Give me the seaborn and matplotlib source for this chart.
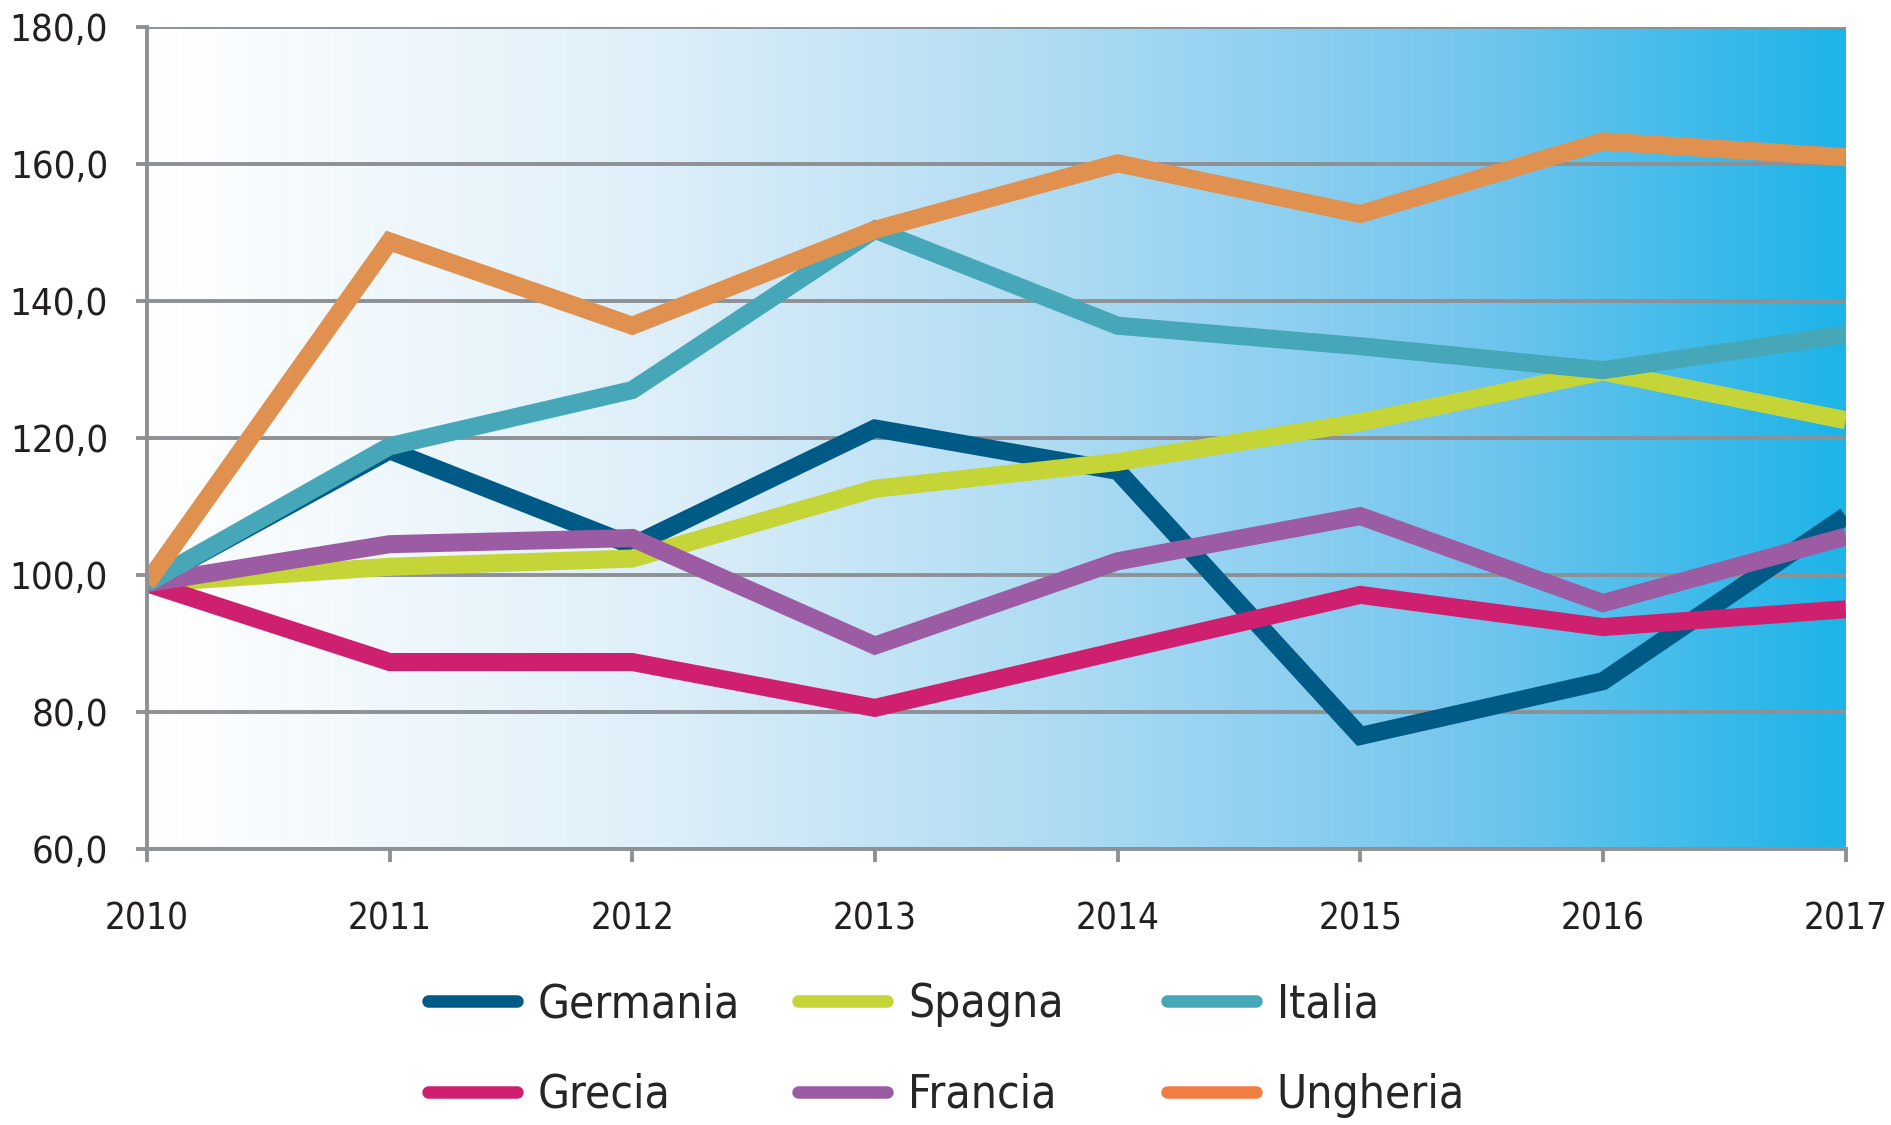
import numpy as np
import pandas as pd
import matplotlib
matplotlib.use('Agg')
import matplotlib.pyplot as plt
from matplotlib import font_manager
from matplotlib.colors import LinearSegmentedColormap
from matplotlib.lines import Line2D
import seaborn as sns

# dati
anni = [2010, 2011, 2012, 2013, 2014, 2015, 2016, 2017]
germania = [98.8, 118.2, 104.3, 121.4, 115.2, 76.5, 84.5, 108.6]
spagna = [98.8, 101.2, 102.4, 112.6, 116.5, 122.3, 129.7, 122.6]
italia = [98.8, 118.8, 127.0, 150.4, 136.4, 133.4, 129.9, 135.1]
grecia = [98.8, 87.3, 87.3, 80.6, 88.9, 97.1, 92.4, 95.0]
francia = [98.8, 104.5, 105.4, 89.7, 102.0, 108.6, 95.9, 105.6]
ungheria = [98.8, 148.7, 136.4, 150.4, 160.1, 152.7, 163.3, 161.0]

y_ticks = [60, 80, 100, 120, 140, 160, 180]
y_labels = ['60,0', '80,0', '100,0', '120,0', '140,0', '160,0', '180,0']

paesi = ['Germania', 'Spagna', 'Grecia', 'Francia', 'Italia', 'Ungheria']
colori = {'Germania': '#005a86', 'Spagna': '#c5d538', 'Italia': '#45a7b8',
          'Grecia': '#cf2070', 'Francia': '#9c5ca4', 'Ungheria': '#e0914f'}
colori_legenda = dict(colori, Ungheria='#f07d42')

valori = {'Germania': germania, 'Spagna': spagna, 'Italia': italia,
          'Grecia': grecia, 'Francia': francia, 'Ungheria': ungheria}
df = pd.concat([pd.DataFrame({'anno': anni, 'valore': valori[p], 'paese': p})
                for p in paesi], ignore_index=True)

sns.set_style('ticks')

# cerca un font stretto (il grafico usa un carattere condensato)
stretto = None
for f in font_manager.fontManager.ttflist:
    if ('Narrow' in f.name or 'Condensed' in f.name or
            str(f.stretch) in ('condensed', 'semi-condensed', 'extra-condensed', '75', '87')):
        if 'Bold' not in f.fname and 'Oblique' not in f.fname and 'Italic' not in f.fname:
            stretto = f
            break
if stretto is not None:
    plt.rcParams['font.family'] = [stretto.name, 'DejaVu Sans']
    plt.rcParams['font.stretch'] = stretto.stretch
    fs_y, fs_x, fs_leg = 27.5, 26.5, 33
else:
    plt.rcParams['font.family'] = ['Roboto', 'DejaVu Sans']
    fs_y, fs_x, fs_leg = 24, 24, 29

fig = plt.figure(figsize=(18.91, 11.25), dpi=100)
ax = fig.add_axes([0.0777, 0.2453, 0.976 - 0.0777, 0.976 - 0.2453])

# sfondo sfumato bianco -> azzurro
cmap = LinearSegmentedColormap.from_list('sfondo', [
    (0.0, '#ffffff'), (0.3, '#deeff9'), (0.55, '#abdaf3'),
    (0.78, '#74c6ee'), (1.0, '#1eb4e8')])
grad = np.linspace(0, 1, 512).reshape(1, -1)
ax.imshow(grad, extent=[2010, 2017, 60, 180], aspect='auto', cmap=cmap,
          zorder=0, interpolation='bicubic')

sns.lineplot(data=df, x='anno', y='valore', hue='paese', hue_order=paesi,
             palette=colori, linewidth=13, ax=ax, legend=False,
             solid_joinstyle='miter', solid_capstyle='butt')

ax.set_xlim(2010, 2017)
ax.set_ylim(60, 180)
ax.set_xticks(anni)
ax.set_xticklabels([str(a) for a in anni])
ax.set_yticks(y_ticks)
ax.set_yticklabels(y_labels)
ax.set_xlabel('')
ax.set_ylabel('')

ax.set_axisbelow(True)
ax.grid(axis='y', color='#8d9195', linewidth=2.8)
ax.grid(axis='x', visible=False)
for s in ['right', 'top']:
    ax.spines[s].set_visible(False)
for s in ['left', 'bottom']:
    ax.spines[s].set_color('#8d9195')
    ax.spines[s].set_linewidth(2.8)

ax.tick_params(axis='y', length=8, width=2.8, color='#8d9195', pad=20,
               labelsize=fs_y, labelcolor='#231f20')
ax.tick_params(axis='x', length=9, width=2.8, color='#8d9195', pad=28,
               labelsize=fs_x, labelcolor='#231f20')

# legenda: tre colonne a posizione fissa, due righe
colonne = [['Germania', 'Grecia'], ['Spagna', 'Francia'], ['Italia', 'Ungheria']]
x_col = [0.2264, 0.422, 0.617]
for xc, col in zip(x_col, colonne):
    h = [Line2D([], [], color=colori_legenda[p], linewidth=9,
                solid_capstyle='round') for p in col]
    fig.legend(h, col, frameon=False, fontsize=fs_leg, loc='upper left',
               bbox_to_anchor=(xc, 0.127), borderpad=0, borderaxespad=0,
               handlelength=1.95, handletextpad=0.45, labelspacing=1.0)

fig.savefig('out.png', dpi=100)
